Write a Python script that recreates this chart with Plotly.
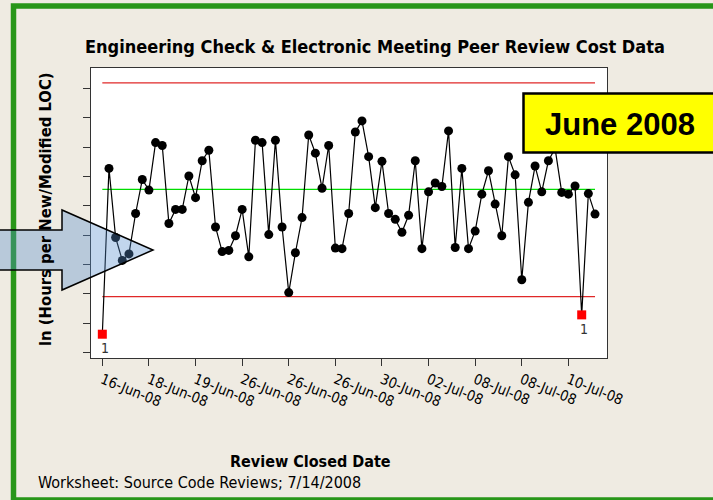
import plotly.graph_objects as go

# ---------------- data ----------------
obs = list(range(1, 76))
ln_cost = [
    -5.19, -2.36, -3.54, -3.93, -3.82, -3.13, -2.55, -2.73, -1.92, -1.97,
    -3.30, -3.06, -3.06, -2.49, -2.86, -2.23, -2.05, -3.36, -3.78, -3.76,
    -3.51, -3.06, -3.87, -1.88, -1.92, -3.49, -1.88, -3.36, -4.48, -3.80,
    -3.20, -1.79, -2.10, -2.70, -1.97, -3.72, -3.73, -3.13, -1.74, -1.55,
    -2.16, -3.03, -2.24, -3.13, -3.23, -3.45, -3.16, -2.23, -3.73, -2.76,
    -2.61, -2.67, -1.72, -3.71, -2.36, -3.73, -3.43, -2.80, -2.40, -2.97,
    -3.51, -2.16, -2.47, -4.26, -2.94, -2.32, -2.76, -2.23, -2.02, -2.77,
    -2.80, -2.66, -4.86, -2.79, -3.14,
]
UCL = -0.90
CL = -2.72
LCL = -4.55
tick_obs = [1, 8, 15, 22, 29, 36, 43, 50, 57, 64, 71]
tick_dates = ["16-Jun-08", "18-Jun-08", "19-Jun-08", "26-Jun-08", "26-Jun-08",
              "26-Jun-08", "30-Jun-08", "02-Jul-08", "08-Jul-08", "08-Jul-08",
              "10-Jul-08"]
y_ticks = [-1.0, -1.5, -2.0, -2.5, -3.0, -3.5, -4.0, -4.5, -5.0, -5.5]

# ---------------- layout geometry ----------------
W, H = 713, 500
ML, MR, MT, MB = 91, 106, 68, 142
PW, PH = W - ML - MR, H - MT - MB


def px(x):
    return (x - ML) / PW


def py(y):
    return (H - MB - y) / PH


BG = "rgb(239,235,226)"
FONT = "Liberation Sans Narrow, DejaVu Sans Condensed, DejaVu Sans, Liberation Sans, Arial, sans-serif"

out = [v < LCL or v > UCL for v in ln_cost]
sym = ["square" if o else "circle" for o in out]
col = ["#ff0000" if o else "black" for o in out]

fig = go.Figure()

# control lines
for val, c in [(UCL, "#e02828"), (CL, "#00dd00"), (LCL, "#e02828")]:
    fig.add_trace(go.Scatter(x=[obs[0], obs[-1]], y=[val, val], mode="lines",
                             line=dict(color=c, width=1.3), hoverinfo="skip",
                             showlegend=False))

fig.add_trace(go.Scatter(
    x=obs, y=ln_cost, mode="lines+markers",
    line=dict(color="black", width=1.2),
    marker=dict(symbol=sym, color=col, size=9, line=dict(width=0)),
    showlegend=False))

fig.update_xaxes(
    range=[-0.70, 76.80], tickmode="array", tickvals=tick_obs, ticktext=tick_dates,
    tickangle=22, ticks="outside", ticklen=7, tickcolor="#333",
    showline=True, linecolor="#333", linewidth=1, mirror=True,
    showgrid=False, zeroline=False,
    tickfont=dict(family=FONT, size=14.5, color="black"))
fig.update_yaxes(
    range=[-5.596, -0.647], tickmode="array", tickvals=y_ticks,
    showticklabels=False, ticks="outside", ticklen=7, tickcolor="#333",
    showline=True, linecolor="#333", linewidth=1, mirror=True,
    showgrid=False, zeroline=False)

shapes = []
# green border
shapes.append(dict(type="rect", xref="paper", yref="paper",
                   x0=px(13.5), x1=px(720), y0=py(6), y1=py(500),
                   line=dict(color="rgb(40,150,25)", width=5.5),
                   fillcolor="rgba(0,0,0,0)", layer="below"))
# block arrow
pts = [(-10, 230), (62, 230), (62, 210), (153, 250), (62, 290), (62, 270), (-10, 270)]
path = "M " + " L ".join(f"{px(a):.5f},{py(b):.5f}" for a, b in pts) + " Z"
shapes.append(dict(type="path", xref="paper", yref="paper", path=path,
                   fillcolor="rgba(86,140,205,0.36)",
                   line=dict(color="black", width=1.5), layer="above"))
# June 2008 box
shapes.append(dict(type="rect", xref="paper", yref="paper",
                   x0=px(523.5), x1=px(720), y0=py(93.5), y1=py(152.5),
                   fillcolor="#ffff00", line=dict(color="black", width=2.5),
                   layer="above"))

annotations = [
    dict(text="<b>Engineering Check & Electronic Meeting Peer Review Cost Data</b>",
         xref="paper", yref="paper", x=px(375), y=py(47), showarrow=False,
         xanchor="center", yanchor="middle",
         font=dict(family=FONT, size=18, color="black")),
    dict(text="<b>ln (Hours per New/Modified LOC)</b>", textangle=-90,
         xref="paper", yref="paper", x=px(45), y=py(209), showarrow=False,
         xanchor="center", yanchor="middle",
         font=dict(family=FONT, size=16.5, color="black")),
    dict(text="<b>Review Closed Date</b>",
         xref="paper", yref="paper", x=px(310), y=py(461), showarrow=False,
         xanchor="center", yanchor="middle",
         font=dict(family=FONT, size=16, color="black")),
    dict(text="Worksheet: Source Code Reviews; 7/14/2008",
         xref="paper", yref="paper", x=px(36), y=py(482), showarrow=False,
         xanchor="left", yanchor="middle",
         font=dict(family=FONT, size=16, color="black")),
    dict(text="<b>June 2008</b>",
         xref="paper", yref="paper", x=px(620), y=py(124), showarrow=False,
         xanchor="center", yanchor="middle",
         font=dict(family="Liberation Sans, Arial, sans-serif", size=31, color="black")),
]
# "1" test-failure labels under out-of-control points
for o, v, f in zip(obs, ln_cost, out):
    if f:
        annotations.append(dict(text="1", x=o + 0.4, y=v, xref="x", yref="y",
                                showarrow=False, yshift=-14,
                                font=dict(family=FONT, size=14, color="#333333")))

fig.update_layout(
    width=W, height=H, autosize=False,
    margin=dict(l=ML, r=MR, t=MT, b=MB),
    paper_bgcolor=BG, plot_bgcolor="white",
    shapes=shapes, annotations=annotations,
    showlegend=False,
)

fig.write_html(
    "out.html",
    config={"displayModeBar": False},
    post_script="document.body.style.margin='0';document.body.style.background='rgb(239,235,226)';document.body.style.overflow='hidden';",
)
